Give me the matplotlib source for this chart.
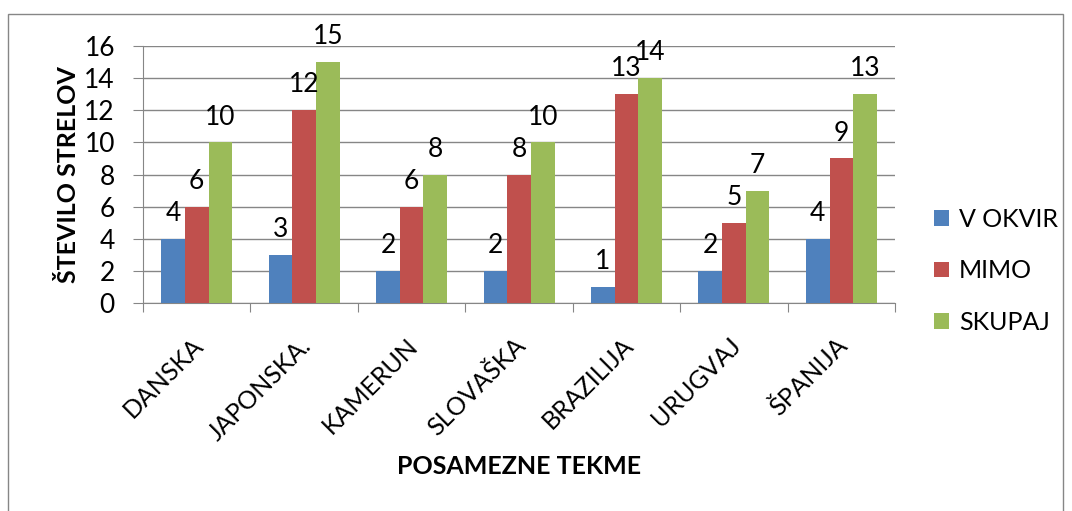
import numpy as np
import matplotlib.pyplot as plt
from matplotlib.patches import Rectangle

plt.rcParams['font.family'] = ['Lato', 'DejaVu Sans']

tekme = ['DANSKA', 'JAPONSKA.', 'KAMERUN', 'SLOVAŠKA', 'BRAZILIJA', 'URUGVAJ', 'ŠPANIJA']
v_okvir = [4, 3, 2, 2, 1, 2, 4]
mimo = [6, 12, 6, 8, 13, 5, 9]
skupaj = [10, 15, 8, 10, 14, 7, 13]

serije = [('V OKVIR', v_okvir, '#4f81bd'),
          ('MIMO', mimo, '#c0504d'),
          ('SKUPAJ', skupaj, '#9bbb59')]

fig = plt.figure(figsize=(10.72, 5.11), dpi=100)
ax = fig.add_axes([0.1334, 0.407, 0.7016, 0.503])

# okvir grafa
fig.patches.append(Rectangle((0.0075, -0.05), 0.984, 1.023, transform=fig.transFigure,
                             fill=False, edgecolor='#868686', linewidth=1))

x = np.arange(len(tekme))
w = 0.22
for i, (ime, vrednosti, barva) in enumerate(serije):
    pos = x + (i - 1) * w
    ax.bar(pos, vrednosti, width=w, color=barva, label=ime, zorder=3)
    for px, v in zip(pos, vrednosti):
        ax.text(px, v + 0.8, str(v), ha='center', va='bottom', fontsize=19, zorder=4)

ax.set_xlim(-0.5, len(tekme) - 0.5)
ax.set_ylim(0, 16)
ax.set_yticks(range(0, 17, 2))
ax.yaxis.grid(True, color='#868686', linewidth=1, zorder=0)
ax.tick_params(axis='y', labelsize=19, length=7.2, color='#868686', pad=13)

ax.set_xticks(np.arange(-0.5, len(tekme), 1.0))
ax.set_xticklabels([])
ax.tick_params(axis='x', length=6.5, color='#868686')
for xi, t in zip(x, tekme):
    ax.text(xi - 0.05, -1.9, t, rotation=45, ha='right', va='top',
            rotation_mode='anchor', fontsize=18)

for s in ['top', 'right']:
    ax.spines[s].set_visible(False)
ax.spines['left'].set_color('#868686')
ax.spines['bottom'].set_color('#868686')

ax.set_ylabel('ŠTEVILO STRELOV', fontsize=18, fontweight='bold', labelpad=3)
fig.text(0.484, 0.088, 'POSAMEZNE TEKME', ha='center', va='center',
         fontsize=18, fontweight='bold')

ax.legend(loc='center left', bbox_to_anchor=(0.862, 0.47), bbox_transform=fig.transFigure,
          frameon=False, fontsize=18, handlelength=0.6, handleheight=0.6,
          labelspacing=1.15, handletextpad=0.4, borderaxespad=0)

fig.savefig('out.png', dpi=100)
